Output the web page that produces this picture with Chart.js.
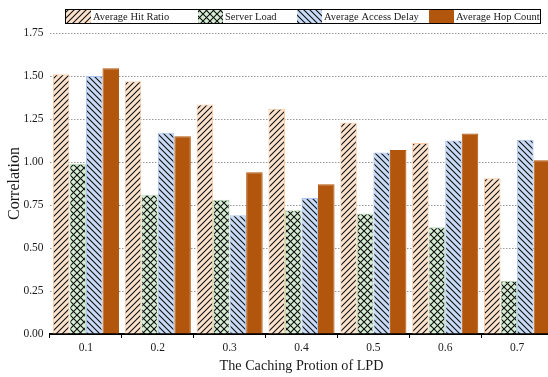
<!DOCTYPE html>
<html><head><meta charset="utf-8">
<script src="https://cdn.jsdelivr.net/npm/chart.js@4/dist/chart.umd.min.js"></script>
<style>html,body{margin:0;padding:0;overflow:hidden;background:#fff;font-family:"Liberation Serif"}#wrap{width:553px;height:377px;position:relative}</style>
</head><body><div id="wrap"><canvas id="c"></canvas></div>
<script>
const categories = ['0.1','0.2','0.3','0.4','0.5','0.6','0.7'];
const seriesNames = ['Average Hit Ratio','Server Load','Average Access Delay','Average Hop Count'];
const hitRatio   = [1.51, 1.47, 1.335, 1.31, 1.23, 1.11, 0.905];
const serverLoad = [0.99, 0.81, 0.78, 0.72, 0.70, 0.62, 0.31];
const accessDelay= [1.50, 1.17, 0.69, 0.79, 1.055, 1.125, 1.13];
const hopCount   = [1.545, 1.15, 0.94, 0.87, 1.07, 1.165, 1.01];
const yTicks = [0, 0.25, 0.5, 0.75, 1.0, 1.25, 1.5, 1.75];
const FONT = '"Liberation Serif", "Times New Roman", serif';

function pat(bg, type, s, lw){
  const c = document.createElement('canvas'); c.width = s; c.height = s;
  const g = c.getContext('2d'); g.fillStyle = bg; g.fillRect(0,0,s,s);
  g.strokeStyle = '#111'; g.lineWidth = lw;
  const fwd = () => { g.beginPath(); g.moveTo(-1,s+1); g.lineTo(s+1,-1); g.moveTo(-1,1); g.lineTo(1,-1); g.moveTo(s-1,s+1); g.lineTo(s+1,s-1); g.stroke(); };
  const back = () => { g.beginPath(); g.moveTo(-1,-1); g.lineTo(s+1,s+1); g.moveTo(s-1,-1); g.lineTo(s+1,1); g.moveTo(-1,s-1); g.lineTo(1,s+1); g.stroke(); };
  if (type==='/') fwd(); else if (type==='\\') back(); else if (type==='x'){ fwd(); back(); }
  return g.createPattern(c,'repeat');
}
const fills = [pat('#fde3cd','/',6,1.1), pat('#d5edd5','x',7,1.1), pat('#c9dbf6','\\',6,1.1), '#b1560c'];
const borders = ['#f9cba6','#b9ddb9','#a9c3ee','#b1560c'];
const values = [hitRatio, serverLoad, accessDelay, hopCount];

const legendPlugin = {
  id:'customLegend',
  afterDraw(chart){
    const ctx = chart.ctx; ctx.save();
    ctx.strokeStyle = '#000'; ctx.lineWidth = 1;
    ctx.strokeRect(65.5, 9.5, 475, 14);
    const boxX = [66, 198, 297, 429];
    ctx.font = '10.5px ' + FONT; ctx.textBaseline = 'alphabetic';
    chart.data.datasets.forEach((ds,i)=>{
      ctx.fillStyle = ds.backgroundColor; ctx.fillRect(boxX[i], 10, 25, 13);
      ctx.fillStyle = '#1a1a1a'; ctx.fillText(ds.label, boxX[i]+27, 20);
    });
    ctx.restore();
  }
};

function draw(){
new Chart(document.getElementById('c'), {
  type:'bar',
  data:{ labels: categories, datasets: seriesNames.map((n,i)=>({label:n, data:values[i], backgroundColor:fills[i], borderColor:borders[i], borderWidth:1, categoryPercentage:0.92, barPercentage:1.0})) },
  options:{
    responsive:true, maintainAspectRatio:false, animation:false,
    layout:{padding:{top:33,right:0,left:0,bottom:0}},
    plugins:{legend:{display:false}, tooltip:{enabled:false}},
    scales:{
      x:{
        grid:{drawOnChartArea:false, drawTicks:true, tickLength:4, color:'#000', offset:true},
        border:{color:'#000', width:2},
        ticks:{font:{family:FONT, size:11.5}, color:'#1a1a1a', padding:3},
        title:{display:true, text:'The Caching Protion of LPD', font:{family:FONT, size:14.2}, color:'#1a1a1a', padding:{top:0, bottom:2.5}},
        afterFit(s){ s.height = 43; }
      },
      y:{
        min:0, max:1.75,
        afterBuildTicks(s){ s.ticks = yTicks.map(v=>({value:v})); },
        grid:{color:'#999', lineWidth:1, drawTicks:false},
        border:{display:false, dash:[1.5,1.5]},
        ticks:{font:{family:FONT, size:11.5}, color:'#1a1a1a', padding:6.5, callback:v=>v.toFixed(2)},
        title:{display:true, text:'Correlation', font:{family:FONT, size:16}, color:'#1a1a1a', padding:{top:5.5, bottom:0}},
        afterFit(s){ s.width = 50; }
      }
    }
  },
  plugins:[legendPlugin]
});
}
Promise.all([document.fonts.load('12px "Liberation Serif"'), document.fonts.load('16px "Liberation Serif"')]).then(draw, draw);
</script></body></html>
